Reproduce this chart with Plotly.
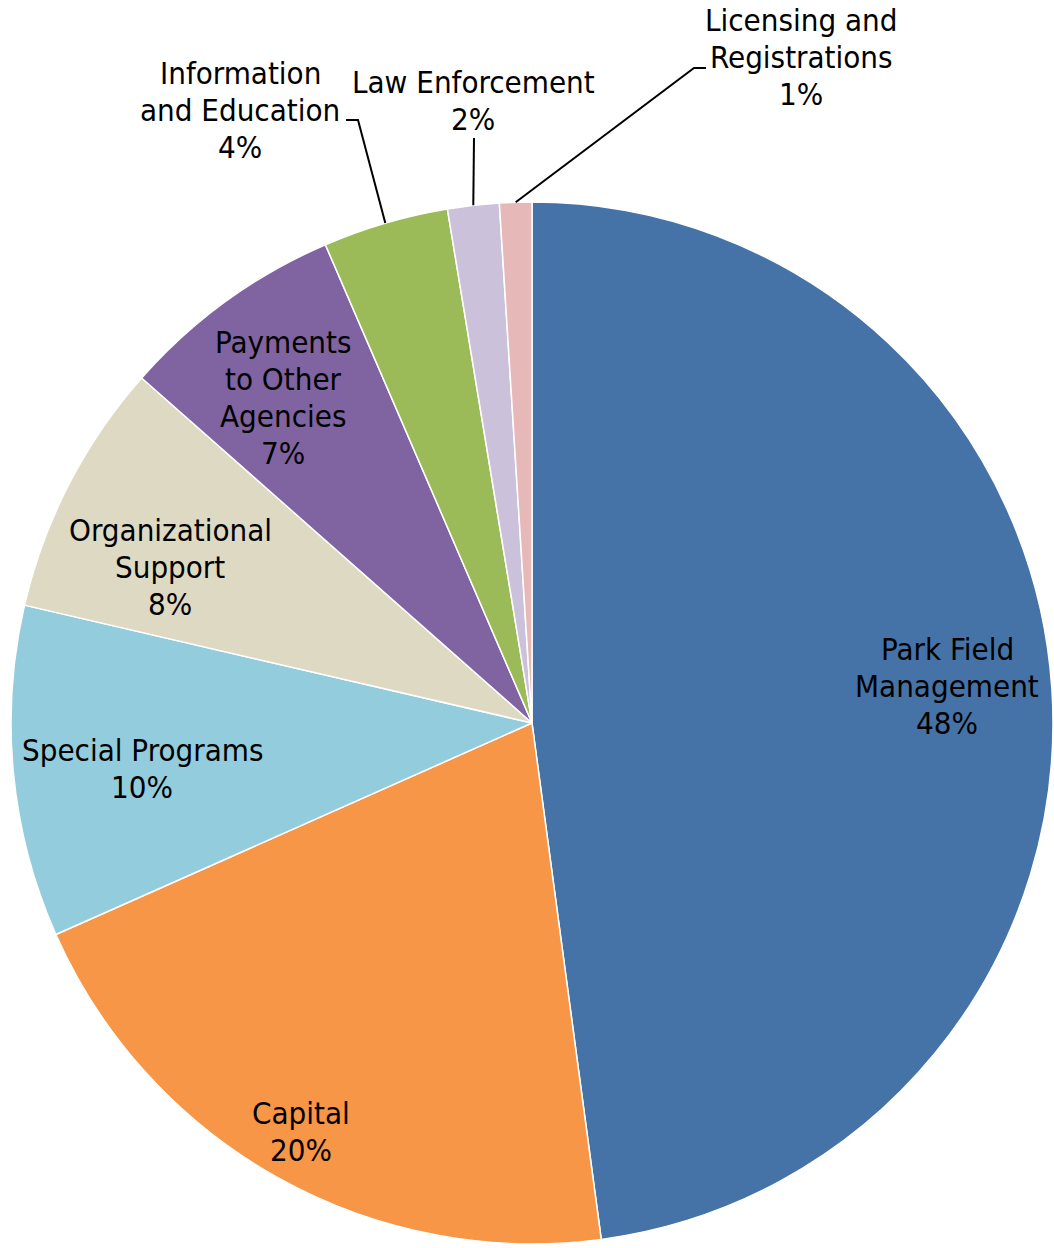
import math
import plotly.graph_objects as go

# Budget shares by program area (clockwise from 12 o'clock)
categories = [
    "Park Field Management",
    "Capital",
    "Special Programs",
    "Organizational Support",
    "Payments to Other Agencies",
    "Information and Education",
    "Law Enforcement",
    "Licensing and Registrations",
]
shares = [47.95, 20.5, 10.3, 7.9, 7.0, 3.9, 1.6, 1.0]

# How each category name wraps on the chart
label_lines = [
    ["Park Field", "Management"],
    ["Capital"],
    ["Special Programs"],
    ["Organizational", "Support"],
    ["Payments", "to Other", "Agencies"],
    ["Information", "and Education"],
    ["Law Enforcement"],
    ["Licensing and", "Registrations"],
]

colors = ["#4673A7", "#F79646", "#93CDDD", "#DDD9C3",
          "#8064A2", "#9BBB59", "#CCC1DA", "#E6B9B8"]

W, H = 1054, 1248
FONT = "DejaVu Sans Condensed"
FSIZE = 31
LINE_H = 37

# pie placement in pixels
CX, CY, R = 532, 723, 521

# label block centre (x, y of first line) in pixels
label_pos = [
    (947, 649),
    (301, 1113),
    (142, 750),
    (170, 530),
    (283, 342),
    (240, 73),
    (473, 82),
    (801, 20),
]

# leader lines for the small outer slices: text-side points in pixels
leaders = {
    5: [(346, 120), (358, 120)],
    6: [(474, 138)],
    7: [(706, 68), (694, 68)],
}


def px(x):
    return x / W


def py(y):
    return 1 - y / H


total = sum(shares)
pcts = [round(v / total * 100) for v in shares]

fig = go.Figure(go.Pie(
    labels=categories,
    values=shares,
    sort=False,
    direction="clockwise",
    rotation=0,
    marker=dict(colors=colors, line=dict(color="white", width=1.5)),
    textinfo="none",
    hoverinfo="label+percent",
    showlegend=False,
    domain=dict(x=[(CX - R) / W, (CX + R) / W], y=[py(CY + R), py(CY - R)]),
))

# labels: one annotation per line
for i, lines in enumerate(label_lines):
    x0, y0 = label_pos[i]
    rows = lines + [f"{pcts[i]}%"]
    for j, t in enumerate(rows):
        fig.add_annotation(
            x=px(x0), y=py(y0 + j * LINE_H), xref="paper", yref="paper",
            text=t, showarrow=False, xanchor="center", yanchor="middle",
            font=dict(family=FONT, size=FSIZE, color="black"),
        )

# leader lines end at the middle of each slice's outer edge
cum = 0.0
mids = []
for v in shares:
    mids.append((cum + v / 2) / total * 2 * math.pi)
    cum += v

for i, pts in leaders.items():
    th = mids[i]
    ex = CX + R * math.sin(th)
    ey = CY - R * math.cos(th)
    path_pts = pts + [(ex, ey)]
    d = "M " + " L ".join(f"{px(x)},{py(y)}" for x, y in path_pts)
    fig.add_shape(type="path", path=d, xref="paper", yref="paper",
                  line=dict(color="black", width=2))

fig.update_layout(
    width=W, height=H,
    margin=dict(l=0, r=0, t=0, b=0),
    paper_bgcolor="white",
    plot_bgcolor="white",
)

fig.write_html("out.html")
